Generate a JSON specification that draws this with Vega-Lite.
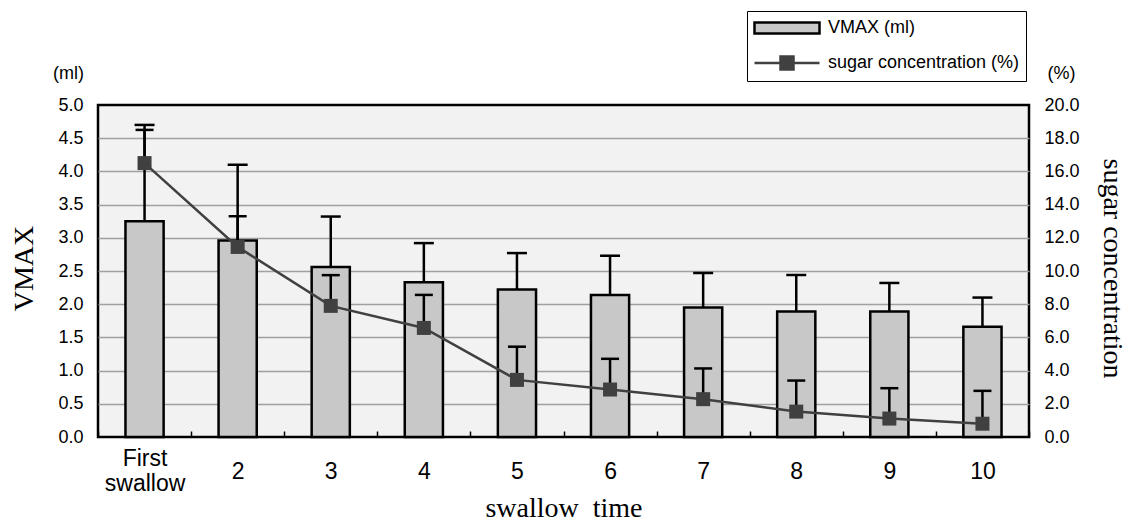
{
  "$schema": "https://vega.github.io/schema/vega-lite/v6.json",
  "width": 931,
  "height": 332,
  "autosize": {"type": "none"},
  "padding": {"left": 98, "top": 105, "right": 100, "bottom": 84},
  "background": "white",
  "config": {
    "font": "Liberation Sans",
    "view": {"stroke": "black", "strokeWidth": 2.5, "fill": "#f2f2f2"},
    "axis": {"labelColor": "black", "titleColor": "black", "titleFontWeight": "normal"}
  },
  "data": {
    "values": [
      {"swallow": "First swallow", "vmax": 3.25, "vmax_hi": 4.70, "sugar": 16.5, "sugar_hi": 18.5},
      {"swallow": "2", "vmax": 2.96, "vmax_hi": 4.10, "sugar": 11.45, "sugar_hi": 13.3},
      {"swallow": "3", "vmax": 2.56, "vmax_hi": 3.32, "sugar": 7.9, "sugar_hi": 9.75},
      {"swallow": "4", "vmax": 2.33, "vmax_hi": 2.92, "sugar": 6.57, "sugar_hi": 8.56},
      {"swallow": "5", "vmax": 2.22, "vmax_hi": 2.77, "sugar": 3.44, "sugar_hi": 5.44},
      {"swallow": "6", "vmax": 2.14, "vmax_hi": 2.73, "sugar": 2.86, "sugar_hi": 4.71},
      {"swallow": "7", "vmax": 1.95, "vmax_hi": 2.47, "sugar": 2.28, "sugar_hi": 4.13},
      {"swallow": "8", "vmax": 1.89, "vmax_hi": 2.44, "sugar": 1.53, "sugar_hi": 3.40},
      {"swallow": "9", "vmax": 1.89, "vmax_hi": 2.32, "sugar": 1.11, "sugar_hi": 2.94},
      {"swallow": "10", "vmax": 1.66, "vmax_hi": 2.10, "sugar": 0.80, "sugar_hi": 2.78}
    ]
  },
  "encoding": {
    "x": {
      "field": "swallow",
      "type": "nominal",
      "sort": null,
      "scale": {"paddingInner": 0, "paddingOuter": 0},
      "axis": {
        "title": "swallow \u00a0time",
        "titleFont": "Liberation Serif",
        "titleFontSize": 28,
        "titleY": 79,
        "titleBaseline": "alphabetic",
        "labelAngle": 0,
        "labelFont": "Liberation Sans",
        "labelFontSize": 23,
        "labelLineHeight": 25,
        "labelBaseline": "middle",
        "labelPadding": {"condition": {"test": "datum.label == 'First swallow'", "value": 27}, "value": 40},
        "labelExpr": "datum.label == 'First swallow' ? ['First', 'swallow'] : datum.label",
        "domain": false,
        "grid": false,
        "ticks": true,
        "tickBand": "extent",
        "tickSize": -6,
        "tickColor": "black",
        "tickWidth": 1.5
      }
    }
  },
  "layer": [
    {
      "layer": [
        {
          "mark": {"type": "bar", "stroke": "black", "strokeWidth": 2.5, "width": {"band": 0.41}},
          "encoding": {
            "y": {
              "field": "vmax",
              "type": "quantitative",
              "title": "VMAX",
              "scale": {"domain": [0, 5], "nice": false, "zero": true},
              "axis": {
                "orient": "left",
                "values": [0, 0.5, 1, 1.5, 2, 2.5, 3, 3.5, 4, 4.5, 5],
                "format": ".1f",
                "labelFont": "Liberation Sans",
                "labelFontSize": 18,
                "labelPadding": 15,
                "labelOverlap": false,
                "ticks": false,
                "domain": false,
                "grid": true,
                "gridColor": {"condition": {"test": "datum.value > 4.99 || datum.value < 0.01", "value": "transparent"}, "value": "#a0a0a0"},
                "gridWidth": 1.5,
                "titleFont": "Liberation Serif",
                "titleFontSize": 28,
                "titleAngle": -90,
                "titleX": -74,
                "titleY": 163,
                "titleAlign": "center",
                "titleBaseline": "middle"
              }
            },
            "fill": {
              "datum": "VMAX (ml)",
              "type": "nominal",
              "scale": {"domain": ["VMAX (ml)", "sugar concentration (%)"], "range": ["#c8c8c8", "#404040"]},
              "legend": {
                "title": null,
                "orient": "none",
                "legendX": 649,
                "legendY": -94,
                "direction": "vertical",
                "strokeColor": "black",
                "fillColor": "white",
                "padding": 6,
                "clipHeight": 22,
                "rowPadding": 14,
                "symbolSize": 4225,
                "symbolType": "M-1,-0.17H1V0.17H-1Z",
                "symbolStrokeColor": "black",
                "symbolStrokeWidth": 2.5,
                "labelFont": "Liberation Sans",
                "labelFontSize": 18,
                "labelColor": "black",
                "labelOffset": 7,
                "labelLimit": 300
              }
            }
          }
        },
        {
          "mark": {"type": "rule", "color": "black", "strokeWidth": 2.5},
          "encoding": {
            "y": {
              "field": "vmax",
              "type": "quantitative",
              "title": "VMAX",
              "axis": {
                "orient": "left",
                "values": [0, 0.5, 1, 1.5, 2, 2.5, 3, 3.5, 4, 4.5, 5],
                "format": ".1f",
                "labelFont": "Liberation Sans",
                "labelFontSize": 18,
                "labelPadding": 15,
                "labelOverlap": false,
                "ticks": false,
                "domain": false,
                "grid": true,
                "gridColor": {"condition": {"test": "datum.value > 4.99 || datum.value < 0.01", "value": "transparent"}, "value": "#a0a0a0"},
                "gridWidth": 1.5,
                "titleFont": "Liberation Serif",
                "titleFontSize": 28,
                "titleAngle": -90,
                "titleX": -74,
                "titleY": 163,
                "titleAlign": "center",
                "titleBaseline": "middle"
              }
            },
            "y2": {"field": "vmax_hi"}
          }
        },
        {
          "mark": {"type": "tick", "color": "black", "size": 20, "thickness": 2.5, "orient": "horizontal", "opacity": 1},
          "encoding": {
            "y": {
              "field": "vmax_hi",
              "type": "quantitative",
              "title": "VMAX",
              "axis": {
                "orient": "left",
                "values": [0, 0.5, 1, 1.5, 2, 2.5, 3, 3.5, 4, 4.5, 5],
                "format": ".1f",
                "labelFont": "Liberation Sans",
                "labelFontSize": 18,
                "labelPadding": 15,
                "labelOverlap": false,
                "ticks": false,
                "domain": false,
                "grid": true,
                "gridColor": {"condition": {"test": "datum.value > 4.99 || datum.value < 0.01", "value": "transparent"}, "value": "#a0a0a0"},
                "gridWidth": 1.5,
                "titleFont": "Liberation Serif",
                "titleFontSize": 28,
                "titleAngle": -90,
                "titleX": -74,
                "titleY": 163,
                "titleAlign": "center",
                "titleBaseline": "middle"
              }
            }
          }
        }
      ]
    },
    {
      "encoding": {
        "x": {
          "field": "swallow",
          "type": "nominal",
          "sort": null,
          "scale": {"paddingInner": 0, "paddingOuter": 0},
          "axis": {
            "orient": "top",
            "title": null,
            "labelAngle": 0,
            "labelFont": "Liberation Sans",
            "labelFontSize": 18,
            "labelBaseline": "middle",
            "labelPadding": 32,
            "labelOverlap": false,
            "labelExpr": "datum.value == 'First swallow' ? '(ml)' : (datum.value == '10' ? '(%)' : '')",
            "labelOffset": {"condition": {"test": "datum.value == 'First swallow'", "value": -76}, "value": 79},
            "domain": false,
            "grid": false,
            "ticks": false
          }
        }
      },
      "layer": [
        {
          "mark": {"type": "rule", "color": "black", "strokeWidth": 2.5},
          "encoding": {
            "y": {
              "field": "sugar",
              "type": "quantitative",
              "title": "sugar concentration",
              "scale": {"domain": [0, 20], "nice": false, "zero": true},
              "axis": {
                "orient": "right",
                "values": [0, 2, 4, 6, 8, 10, 12, 14, 16, 18, 20],
                "format": ".1f",
                "labelFont": "Liberation Sans",
                "labelFontSize": 18,
                "labelPadding": 15,
                "labelAlign": "left",
                "labelOverlap": false,
                "ticks": false,
                "domain": false,
                "grid": false,
                "titleFont": "Liberation Serif",
                "titleFontSize": 28,
                "titleAngle": 90,
                "titleX": 82,
                "titleY": 163,
                "titleAlign": "center",
                "titleBaseline": "middle"
              }
            },
            "y2": {"field": "sugar_hi"}
          }
        },
        {
          "mark": {"type": "tick", "color": "black", "size": 18, "thickness": 2.5, "orient": "horizontal", "opacity": 1},
          "encoding": {
            "y": {
              "field": "sugar_hi",
              "type": "quantitative",
              "title": "sugar concentration",
              "axis": {
                "orient": "right",
                "values": [0, 2, 4, 6, 8, 10, 12, 14, 16, 18, 20],
                "format": ".1f",
                "labelFont": "Liberation Sans",
                "labelFontSize": 18,
                "labelPadding": 15,
                "labelAlign": "left",
                "labelOverlap": false,
                "ticks": false,
                "domain": false,
                "grid": false,
                "titleFont": "Liberation Serif",
                "titleFontSize": 28,
                "titleAngle": 90,
                "titleX": 82,
                "titleY": 163,
                "titleAlign": "center",
                "titleBaseline": "middle"
              }
            }
          }
        },
        {
          "mark": {"type": "line", "strokeWidth": 2.5},
          "encoding": {
            "y": {
              "field": "sugar",
              "type": "quantitative",
              "title": "sugar concentration",
              "axis": {
                "orient": "right",
                "values": [0, 2, 4, 6, 8, 10, 12, 14, 16, 18, 20],
                "format": ".1f",
                "labelFont": "Liberation Sans",
                "labelFontSize": 18,
                "labelPadding": 15,
                "labelAlign": "left",
                "labelOverlap": false,
                "ticks": false,
                "domain": false,
                "grid": false,
                "titleFont": "Liberation Serif",
                "titleFontSize": 28,
                "titleAngle": 90,
                "titleX": 82,
                "titleY": 163,
                "titleAlign": "center",
                "titleBaseline": "middle"
              }
            },
            "stroke": {
              "datum": "sugar concentration (%)",
              "type": "nominal",
              "scale": {"domain": ["sugar concentration (%)"], "range": ["#404040"]},
              "legend": {
                "title": null,
                "orient": "none",
                "legendX": 653,
                "legendY": -55,
                "direction": "vertical",
                "strokeColor": null,
                "fillColor": "white",
                "padding": 2,
                "clipHeight": 22,
                "symbolSize": 4225,
                "symbolType": "M-1,0H1M-0.2,-0.2H0.2V0.2H-0.2Z",
                "symbolFillColor": "#404040",
                "symbolStrokeWidth": 2.5,
                "labelFont": "Liberation Sans",
                "labelFontSize": 18,
                "labelColor": "black",
                "labelOffset": 7,
                "labelLimit": 300
              }
            }
          }
        },
        {
          "mark": {"type": "point", "shape": "square", "filled": true, "size": 196, "color": "#404040", "opacity": 1},
          "encoding": {
            "y": {
              "field": "sugar",
              "type": "quantitative",
              "title": "sugar concentration",
              "axis": {
                "orient": "right",
                "values": [0, 2, 4, 6, 8, 10, 12, 14, 16, 18, 20],
                "format": ".1f",
                "labelFont": "Liberation Sans",
                "labelFontSize": 18,
                "labelPadding": 15,
                "labelAlign": "left",
                "labelOverlap": false,
                "ticks": false,
                "domain": false,
                "grid": false,
                "titleFont": "Liberation Serif",
                "titleFontSize": 28,
                "titleAngle": 90,
                "titleX": 82,
                "titleY": 163,
                "titleAlign": "center",
                "titleBaseline": "middle"
              }
            }
          }
        }
      ]
    }
  ],
  "resolve": {"scale": {"y": "independent"}, "axis": {"x": "independent"}}
}
